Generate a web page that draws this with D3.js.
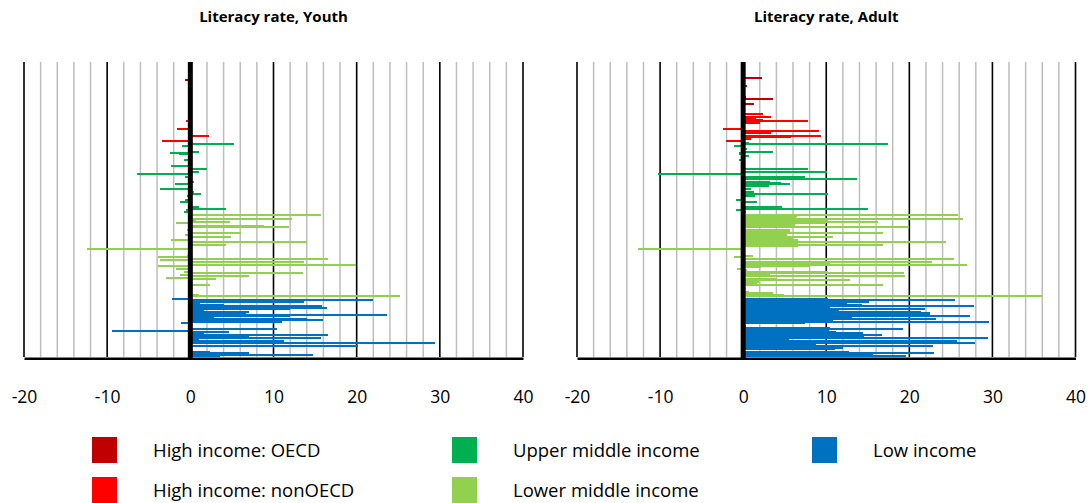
<!DOCTYPE html>
<html>
<head>
<meta charset="utf-8">
<script src="https://cdn.jsdelivr.net/npm/d3@7"></script>
<style>
  html, body { margin: 0; padding: 0; background: #fff; }
  svg { display: block; font-family: "Open Sans", Lato, sans-serif; }
</style>
</head>
<body>
<svg id="chart" width="1092" height="503"></svg>
<script>
// Change in literacy rate (percentage points), one slot per country,
// countries grouped by income class. null = no data.
const _ = null;

const incomeGroups = [
  "High income: OECD",
  "High income: nonOECD",
  "Upper middle income",
  "Lower middle income",
  "Low income"
];

const groupColors = {
  "High income: OECD": "#C00000",
  "High income: nonOECD": "#FF0000",
  "Upper middle income": "#00B050",
  "Lower middle income": "#92D050",
  "Low income": "#0070C0"
};

const youthHighOECD = [_,_,_,_,_,_,_,_,_,_, _,_,-0.7,_,_,_,_,_,_,_, _,_,_,_,_,_,_,_,_,_, _,_,_];
const adultHighOECD = [_,_,_,_,_,_,_,_,_,_, _,2.3,_,_,_,_,0.5,_,_,_, _,_,_,_,0.4,3.6,_,_,_,1.3, _,_,_];

const youthHighNonOECD = [_,_,_,_,_,_,_,_,-0.5,_, _,_,_,-1.6,_,_,_,_,2.3,_, _,_,-3.4];
const adultHighNonOECD = [_,_,_,2.4,_,3.3,1.5,2.4,7.8,2.0, _,_,_,-2.4,_,9.1,3.4,_,9.4,5.8, 0.9,_,-2.1];

const youthUpperMiddle = [
  _,5.3,-1.0,_,_,_,1.1,-2.4,-1.4,_,
  _,_,-0.8,_,_,_,-2.3,_,2.0,_,
  1.1,_,-6.4,_,-0.6,_,_,0.5,_,-1.9,
  _,_,-3.6,_,0.5,_,1.3,-0.4,_,_,
  -0.6,-1.3,_,_,_,1.0,4.3,-0.5,-0.8
];
const adultUpperMiddle = [
  0.7,17.4,-1.1,_,0.5,_,3.6,-0.5,-0.5,0.7,
  _,_,-0.5,_,_,_,_,_,7.8,_,
  10.1,_,-10.3,_,7.4,13.7,_,3.2,4.5,5.6,
  3.1,_,1.0,_,1.3,_,10.2,1.4,_,_,
  -0.9,1.7,_,_,_,4.7,15.0,-0.9,0.4
];

const youthLowerMiddle = [
  _,15.7,_,_,12.2,0.7,4.8,-1.7,_,8.8,
  11.9,_,-0.4,_,6.1,-0.6,_,4.9,_,-2.3,
  14.0,_,4.3,_,_,-12.4,_,_,_,_,
  -0.4,-3.9,16.5,-3.6,13.7,_,19.9,-3.9,_,-1.7,
  _,-0.8,13.6,-1.2,7.0,-2.9,3.1,_,_,_,
  2.4,_,_,_,_,_,_,1.0,25.2
];
const adultLowerMiddle = [
  _,25.8,6.5,6.3,26.4,10.2,16.2,10.0,6.2,6.2,
  19.9,_,5.6,5.6,16.8,5.3,5.3,10.8,6.0,6.6,
  24.4,6.6,16.8,6.6,_,-12.6,_,_,_,_,
  1.2,-1.1,25.4,_,22.7,10.5,26.9,8.0,2.2,-0.7,
  0.5,10.2,19.3,3.2,19.5,_,4.0,12.9,1.9,1.7,
  16.8,_,0.4,_,_,0.7,3.6,4.9,36.0
];

const youthLow = [
  _,-2.2,22.0,13.7,1.2,4.0,15.8,16.4,12.0,1.7,
  7.1,6.7,23.7,12.0,2.8,14.0,16.0,11.0,-1.1,_,
  _,_,10.4,-9.4,4.6,1.6,16.6,7.1,15.7,1.0,
  11.3,3.0,29.4,_,20.2,_,_,_,2.4,7.1,
  14.7,3.6
];
const adultLow = [
  _,10.2,25.5,15.1,12.5,14.3,27.8,10.5,21.9,11.5,
  21.4,22.5,22.5,27.3,13.1,23.2,10.8,29.6,7.5,_,
  0.4,10.5,19.2,10.3,11.2,14.4,16.7,14.6,29.5,5.5,
  25.7,12.0,27.9,8.8,22.9,12.0,11.0,_,12.7,23.0,
  15.6,19.6
];

const axisTicks = [-20, -10, 0, 10, 20, 30, 40];
const panelTitles = ["Literacy rate, Youth", "Literacy rate, Adult"];

// Build one record per country slot, in drawing order (top to bottom).
const rows = [];
function addGroup(group, youth, adult) {
  youth.forEach((v, i) => rows.push({ key: group + " " + (i + 1), group, youth: v, adult: adult[i] }));
}
addGroup(incomeGroups[0], youthHighOECD, adultHighOECD);
addGroup(incomeGroups[1], youthHighNonOECD, adultHighNonOECD);
addGroup(incomeGroups[2], youthUpperMiddle, adultUpperMiddle);
addGroup(incomeGroups[3], youthLowerMiddle, adultLowerMiddle);
addGroup(incomeGroups[4], youthLow, adultLow);

const svg = d3.select("#chart");

const plotTop = 62, plotBottom = 357;
const y = d3.scaleBand()
  .domain(rows.map(d => d.key))
  .range([plotTop, plotBottom])
  .paddingInner(0);
const barH = 2;

const panels = [
  { title: panelTitles[0], field: "youth", range: [24, 523] },
  { title: panelTitles[1], field: "adult", range: [577, 1075.5] }
];

panels.forEach(p => {
  const x = d3.scaleLinear().domain([axisTicks[0], axisTicks[axisTicks.length - 1]]).range(p.range);
  const g = svg.append("g");

  // light vertical gridlines every 2 points
  const minor = d3.range(-20, 41, 2).filter(v => v % 10 !== 0);
  g.selectAll("line.minor").data(minor).join("line")
    .attr("x1", d => x(d)).attr("x2", d => x(d))
    .attr("y1", plotTop).attr("y2", plotBottom)
    .attr("stroke", "#bdbdbd").attr("stroke-width", 1.5);

  // black gridlines every 10 points
  g.selectAll("line.major").data(axisTicks.filter(v => v !== 0)).join("line")
    .attr("x1", d => x(d)).attr("x2", d => x(d))
    .attr("y1", plotTop).attr("y2", plotBottom)
    .attr("stroke", "#000").attr("stroke-width", 1.6);

  // bars, snapped to whole pixels
  g.append("g").attr("shape-rendering", "crispEdges")
    .selectAll("rect").data(rows.filter(d => d[p.field] != null)).join("rect")
    .attr("x", d => x(Math.min(0, d[p.field])))
    .attr("width", d => Math.abs(x(d[p.field]) - x(0)))
    .attr("y", d => Math.round(y(d.key) + y.bandwidth() / 2 - barH / 2))
    .attr("height", barH)
    .attr("fill", d => groupColors[d.group]);

  // zero line
  g.append("line")
    .attr("x1", x(0)).attr("x2", x(0))
    .attr("y1", plotTop).attr("y2", plotBottom + 1)
    .attr("stroke", "#000").attr("stroke-width", 5);

  // bottom axis with labels
  const axis = d3.axisBottom(x).tickValues(axisTicks).tickSize(0).tickPadding(0)
    .tickFormat(d => String(d));
  const ax = g.append("g").attr("transform", `translate(0,${plotBottom + 1.2})`).call(axis);
  ax.select(".domain").attr("stroke", "#000").attr("stroke-width", 2.6);
  ax.selectAll("text")
    .attr("dy", null).attr("y", 45)
    .attr("font-size", 17.5).attr("font-family", "\"Open Sans\", Lato, sans-serif")
    .attr("fill", "#000");

  // title
  g.append("text")
    .attr("x", (p.range[0] + p.range[1]) / 2)
    .attr("y", 22)
    .attr("text-anchor", "middle")
    .attr("font-weight", "bold")
    .attr("font-size", 15)
    .text(p.title);
});

// legend
const legendPos = [
  { g: incomeGroups[0], x: 92, y: 437 },
  { g: incomeGroups[1], x: 92, y: 477 },
  { g: incomeGroups[2], x: 452, y: 437 },
  { g: incomeGroups[3], x: 452, y: 477 },
  { g: incomeGroups[4], x: 812, y: 437 }
];
const lg = svg.append("g");
legendPos.forEach(l => {
  lg.append("rect").attr("x", l.x).attr("y", l.y).attr("width", 25).attr("height", 26)
    .attr("fill", groupColors[l.g]);
  lg.append("text").attr("x", l.x + 61).attr("y", l.y + 19.5)
    .attr("font-size", 18.5).attr("fill", "#000").text(l.g);
});
</script>
</body>
</html>
